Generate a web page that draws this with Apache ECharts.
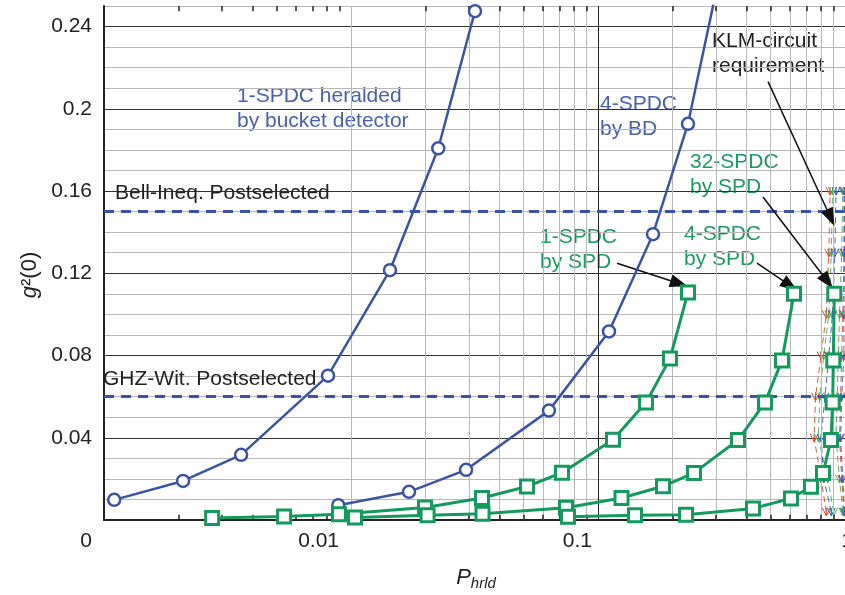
<!DOCTYPE html>
<html><head><meta charset="utf-8">
<script src="https://cdn.jsdelivr.net/npm/echarts@6/dist/echarts.min.js"></script>
<style>html,body{margin:0;padding:0;background:#fff}#c{width:845px;height:595px}</style>
</head><body><div id="c"></div>
<script>
// ---- axis ticks ----
const xTickValues = [0.001, 0.01, 0.1, 1];
const xTickLabels = ['0', '0.01', '0.1', '1'];
const xMinorGrid = [0.002,0.003,0.004,0.005,0.006,0.007,0.008,0.009,
                    0.02,0.03,0.04,0.05,0.06,0.07,0.08,0.09,
                    0.2,0.3,0.4,0.5,0.6,0.7,0.8,0.9];
const yTickValues = [0.04, 0.08, 0.12, 0.16, 0.2, 0.24];
const yTickLabels = ['0.04', '0.08', '0.12', '0.16', '0.2', '0.24'];

// ---- series data ----
const bucket1X = [0.00110, 0.00209, 0.00359, 0.00807, 0.01438, 0.02256, 0.03177];
const bucket1Y = [0.0098, 0.0190, 0.0317, 0.0702, 0.1215, 0.1808, 0.2475];
const bd4X = [0.00888, 0.01717, 0.02923, 0.0633, 0.1108, 0.167, 0.2314, 0.317];
const bd4Y = [0.0072, 0.0137, 0.0244, 0.0532, 0.0917, 0.139, 0.1927, 0.27];
const spd1X = [0.00274, 0.00536, 0.00894, 0.01994, 0.03391, 0.05161, 0.07148, 0.1150, 0.1564, 0.1956, 0.2314];
const spd1Y = [0.0010, 0.0017, 0.0028, 0.0061, 0.0107, 0.0163, 0.0230, 0.0390, 0.0571, 0.0785, 0.1107];
const spd4X = [0.01038, 0.02042, 0.03407, 0.07421, 0.1245, 0.1833, 0.2447, 0.3688, 0.4745, 0.5556, 0.6217];
const spd4Y = [0.0012, 0.0023, 0.0030, 0.0060, 0.0107, 0.0164, 0.0229, 0.0389, 0.0572, 0.0776, 0.1100];
const spd32X = [0.0756, 0.1412, 0.2272, 0.4241, 0.6045, 0.7282, 0.8146, 0.8776, 0.8917, 0.8967, 0.9051];
const spd32Y = [0.0016, 0.0023, 0.0026, 0.0056, 0.0105, 0.0162, 0.0228, 0.0389, 0.0572, 0.0776, 0.1101];

// KLM-circuit requirement (dashed bundles)
const klmY = [0.004, 0.02, 0.04, 0.06, 0.08, 0.10, 0.13, 0.16];
const klmRed1X = [0.84, 0.80, 0.75, 0.76, 0.80, 0.84, 0.86, 0.87];
const klmRed2X = [0.99, 0.97, 0.95, 0.96, 0.97, 0.98, 0.99, 0.99];
const klmGreen1X = [0.90, 0.85, 0.78, 0.79, 0.82, 0.86, 0.88, 0.89];
const klmGreen2X = [0.98, 0.95, 0.92, 0.93, 0.94, 0.95, 0.97, 0.98];
const klmBlue1X = [0.88, 0.82, 0.80, 0.83, 0.86, 0.89, 0.91, 0.92];
const klmBlue2X = [0.995, 0.98, 0.96, 0.97, 0.99, 0.99, 0.995, 0.995];

// thresholds
const bellLevel = 0.15;
const ghzLevel = 0.06;

// annotation arrows [from, to] in data coordinates
const arrows = [
  [[0.4879, 0.2132], [0.875, 0.1470]],
  [[0.4656, 0.1571], [0.850, 0.1160]],
  [[0.4403, 0.1249], [0.600, 0.1140]],
  [[0.1194, 0.1249], [0.2130, 0.1150]]
];

function pairs(xs, ys) { return xs.map((x, i) => [x, ys[i]]); }

const blueLine = '#3a55a6';
const blueText = '#4862b1';
const greenLine = '#149a5c';
const greenText = '#1c9d60';
const FONT = 'Liberation Sans, Arial, sans-serif';

const chart = echarts.init(document.getElementById('c'));

function curve(name, xs, ys, color, symbol, size, bw) {
  return {
    name, type: 'line', data: pairs(xs, ys), z: 5,
    symbol, symbolSize: size, showSymbol: true,
    lineStyle: { color, width: bw },
    itemStyle: { color: '#fff', borderColor: color, borderWidth: bw },
    clip: true, animation: false
  };
}
function klm(xs, color) {
  return {
    type: 'line', data: pairs(xs, klmY), z: 3, silent: true,
    symbol: 'path://M0,0L5,9L10,0M5,9L5,0', symbolSize: [8, 8],
    lineStyle: { color, width: 1, type: [6, 4], opacity: 0.9 },
    itemStyle: { color: 'rgba(0,0,0,0)', borderColor: color, borderWidth: 1 },
    clip: true, animation: false
  };
}

const tickSegs = [];
xMinorGrid.forEach(v => {
  tickSegs.push([{ coord: [v, 0.25] }, { coord: [v, 0.2475] }]);
  tickSegs.push([{ coord: [v, 0] }, { coord: [v, 0.0025] }]);
});

const option = {
  animation: false,
  backgroundColor: '#fff',
  grid: { left: 104, right: 0, top: 6, bottom: 75, containLabel: false, outerBoundsMode: 'none' },
  xAxis: [{
    type: 'log', logBase: 10, min: 0.001, max: 1,
    axisLine: { show: true, onZero: false, lineStyle: { color: '#222', width: 2 } },
    axisTick: { show: false },
    splitLine: { show: true, lineStyle: { color: '#222', width: 1 } },
    axisLabel: {
      fontSize: 21, color: '#222', fontFamily: FONT, margin: 11, align: 'right',
      showMinLabel: true, showMaxLabel: true,
      formatter: function (v) {
        const i = xTickValues.findIndex(t => Math.abs(Math.log10(t) - Math.log10(v)) < 1e-6);
        return i >= 0 ? '{r' + i + '|' + xTickLabels[i] + '}' : '';
      },
      rich: {
        r0: { fontSize: 21, fontFamily: FONT, color: '#222', padding: [0, 12, 0, 0] },
        r1: { fontSize: 21, fontFamily: FONT, color: '#222', padding: [0, 12, 0, 0] },
        r2: { fontSize: 21, fontFamily: FONT, color: '#222', padding: [0, 6, 0, 0] },
        r3: { fontSize: 21, fontFamily: FONT, color: '#222', padding: [0, -8, 0, 0] }
      }
    }
  }, {
    type: 'log', logBase: 10, min: 0.001, max: 1, position: 'top',
    axisLine: { show: true, lineStyle: { color: '#222', width: 2 } },
    axisTick: { show: false }, axisLabel: { show: false }, splitLine: { show: false }
  }],
  yAxis: {
    type: 'value', min: 0, max: 0.25, interval: 0.01,
    axisLine: { show: true, onZero: false, lineStyle: { color: '#222', width: 2 } },
    axisTick: { show: false },
    splitLine: { show: true, lineStyle: { color: ['#333', '#b8b8b8', '#b8b8b8', '#b8b8b8'], width: 1 } },
    axisLabel: {
      fontSize: 21, color: '#222', fontFamily: FONT, margin: 12,
      formatter: function (v) {
        const i = yTickValues.findIndex(t => Math.abs(t - v) < 1e-6);
        return i >= 0 ? yTickLabels[i] : '';
      }
    }
  },
  series: [
    { type: 'line', data: [[0.5, 0.5]], silent: true, z: 1, showSymbol: false,
      lineStyle: { opacity: 0 },
      markLine: { silent: true, symbol: ['none', 'none'], label: { show: false }, animation: false,
        lineStyle: { color: '#b8b8b8', width: 1, type: 'solid' },
        data: xMinorGrid.map(v => ({ xAxis: v })) } },
    { type: 'line', data: [[0.5, 0.5]], silent: true, z: 2, showSymbol: false,
      lineStyle: { opacity: 0 },
      markLine: { silent: true, symbol: ['none', 'none'], label: { show: false }, animation: false,
        lineStyle: { color: '#222', width: 1.5, type: 'solid' },
        data: tickSegs } },
    klm(klmRed1X, '#e8412e'), klm(klmRed2X, '#e8412e'),
    klm(klmGreen1X, '#3cb44a'), klm(klmGreen2X, '#3cb44a'),
    klm(klmBlue1X, '#3a55c6'), klm(klmBlue2X, '#3a55c6'),
    { type: 'line', data: [[0.5, 0.5]], silent: true, z: 4, showSymbol: false,
      lineStyle: { opacity: 0 },
      markLine: { silent: true, symbol: ['none', 'none'], label: { show: false }, animation: false,
        lineStyle: { color: blueLine, width: 3, type: [10, 7] },
        data: [{ yAxis: bellLevel }, { yAxis: ghzLevel }] } },
    curve('1-SPDC heralded by bucket detector', bucket1X, bucket1Y, blueLine, 'circle', 12, 2.5),
    curve('4-SPDC by BD', bd4X, bd4Y, blueLine, 'circle', 12, 2.5),
    curve('1-SPDC by SPD', spd1X, spd1Y, greenLine, 'rect', 13, 3),
    curve('4-SPDC by SPD', spd4X, spd4Y, greenLine, 'rect', 13, 3),
    curve('32-SPDC by SPD', spd32X, spd32Y, greenLine, 'rect', 13, 3),
    { type: 'line', data: [[0.5, 0.5]], silent: true, z: 8, showSymbol: false,
      lineStyle: { opacity: 0 },
      markLine: { silent: true, symbol: ['none', 'triangle'], symbolSize: [13, 18], label: { show: false }, animation: false,
        itemStyle: { color: '#111' },
        lineStyle: { color: '#111', width: 1.5, type: 'solid' },
        data: arrows.map(a => [{ coord: a[0] }, { coord: a[1] }]) } }
  ],
  graphic: [
    { type: 'text', left: 237, top: 84, style: { text: '1-SPDC heralded\nby bucket detector', fill: blueText, font: '21px ' + FONT, lineHeight: 25 } },
    { type: 'text', left: 600, top: 92, style: { text: '4-SPDC\nby BD', fill: blueText, font: '21px ' + FONT, lineHeight: 25 } },
    { type: 'text', left: 712, top: 29, style: { text: 'KLM-circuit\nrequirement', fill: '#222', font: '21px ' + FONT, lineHeight: 25 } },
    { type: 'text', left: 690, top: 150, style: { text: '32-SPDC\nby SPD', fill: greenText, font: '21px ' + FONT, lineHeight: 25 } },
    { type: 'text', left: 684, top: 222, style: { text: '4-SPDC\nby SPD', fill: greenText, font: '21px ' + FONT, lineHeight: 25 } },
    { type: 'text', left: 540, top: 225, style: { text: '1-SPDC\nby SPD', fill: greenText, font: '21px ' + FONT, lineHeight: 25 } },
    { type: 'text', left: 115, top: 183, z: 10, style: { text: 'Bell-Ineq. Postselected', fill: '#222', font: '21px ' + FONT } },
    { type: 'text', left: 103, top: 369, z: 10, style: { text: 'GHZ-Wit. Postselected', fill: '#222', font: '21px ' + FONT } },
    { type: 'text', x: 30, y: 275, rotation: Math.PI / 2, z: 10,
      style: { text: '{i|g}{n|²(0)}', align: 'center', verticalAlign: 'middle',
        rich: { i: { fontStyle: 'italic', fontSize: 22, fontFamily: FONT, fill: '#222' },
                n: { fontSize: 22, fontFamily: FONT, fill: '#222' } } } },
    { type: 'text', x: 476, y: 578, z: 10,
      style: { text: '{p|P}{s|hrld}', align: 'center', verticalAlign: 'middle',
        rich: { p: { fontStyle: 'italic', fontSize: 22, fontFamily: FONT, fill: '#222' },
                s: { fontStyle: 'italic', fontSize: 15, fontFamily: FONT, fill: '#222', padding: [12, 0, 0, 0] } } } }
  ]
};
chart.setOption(option);
</script>
</body></html>
